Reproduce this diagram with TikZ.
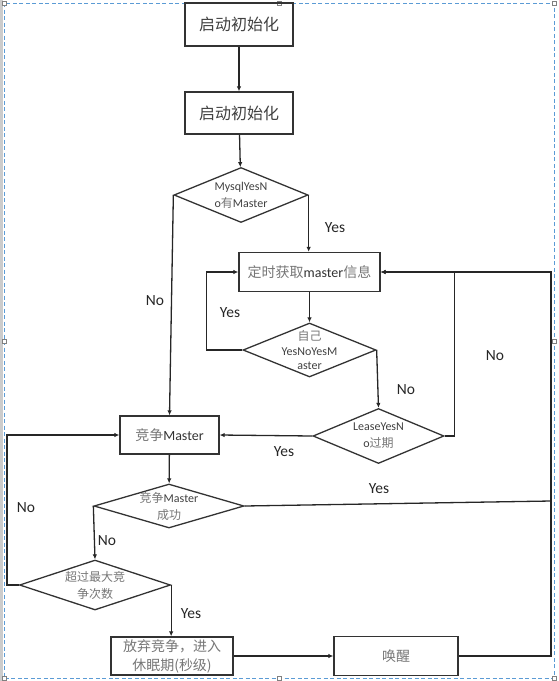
\documentclass[tikz,border=0pt]{standalone}
\usepackage{fontspec}
\setmainfont{Carlito}
\newfontfamily\cjk{Noto Sans CJK SC}
\usetikzlibrary{shapes.geometric,arrows.meta}
\definecolor{frame}{HTML}{5B9BD5}
\definecolor{zhgray}{HTML}{767676}
\newcommand{\zh}[1]{{\cjk\color{zhgray}#1}}
\begin{document}
\begin{tikzpicture}[x=1pt,y=-1pt,
	box/.style={draw=black!80, line width=1.3pt, inner sep=0pt, align=center, text=black!80, font=\fontsize{14}{19}\selectfont},
	choice/.style={diamond, draw=black!80, line width=1.3pt, inner sep=0pt},
	qtext/.style={align=center, text=black!75, font=\fontsize{12}{17}\selectfont},
	flow/.style={draw=black!85, line width=1.3pt, -{Latex[length=5pt,width=4.5pt]}},
	link/.style={draw=black!85, line width=1.3pt},
	tag/.style={text=black!85, font=\fontsize{15.5}{18}\selectfont}]
	\useasboundingbox (0,0) rectangle (558,681);
	\fill [black!20] (0,0) rectangle (2.5,681);
	\draw [frame, line width=0.7pt, dash pattern=on 4pt off 2.5pt] (4,3) rectangle (554,678);
	\foreach \p in {(4,3),(279,3),(554,3),(4,341),(554,341),(4,678),(279,678),(554,678)}
	\draw [black!50, fill=white, line width=0.4pt] \p ++(-1.8,-1.8) rectangle ++(3.6,3.6);

	\node [box, minimum width=108, minimum height=43, text=black!75, font=\cjk\fontsize{16}{19}\selectfont] (init1) at (239,24.5) {启动初始化};
	\node [box, minimum width=108, minimum height=42, text=black!75, font=\cjk\fontsize{16}{19}\selectfont] (init2) at (239,113) {启动初始化};
	\node [choice, minimum width=134, minimum height=55, label={[qtext]center:MysqlYesN\\o\zh{有}Master}] (hasmaster) at (241,195) {};
	\node [box, minimum width=141, minimum height=39] (fetch) at (309.5,272) {\zh{定时获取}master\zh{信息}};
	\node [choice, minimum width=133, minimum height=54, label={[qtext, font=\fontsize{12}{14.5}\selectfont]center:\zh{自己}\\YesNoYesM\\aster}] (isself) at (309.5,350) {};
	\node [choice, minimum width=131, minimum height=55, label={[qtext]center:LeaseYesN\\o\zh{过期}}] (expired) at (378.5,436) {};
	\node [box, minimum width=99, minimum height=38] (compete) at (169.5,435) {\zh{竞争}Master};
	\node [choice, minimum width=150, minimum height=44, label={[qtext]center:\zh{竞争}Master\\\zh{成功}}] (success) at (169,506) {};
	\node [choice, minimum width=151, minimum height=50, label={[qtext, text=zhgray, font=\cjk\fontsize{12}{17}\selectfont]center:超过最大竞\\争次数}] (exceed) at (95,585) {};
	\node [box, minimum width=122, minimum height=38, text=zhgray, font=\cjk\fontsize{14}{19}\selectfont] (giveup) at (172,656) {放弃竞争，进入\\休眠期(秒级)};
	\node [box, minimum width=124, minimum height=39, text=zhgray, font=\cjk\fontsize{14}{19}\selectfont] (wakeup) at (396,656) {唤醒};
	\coordinate (rside) at (551,272);
	\coordinate (yesjoin) at (551,501);

	\draw [flow] (init1) -- (init2);
	\draw [flow] (init2) -- (hasmaster);
	\draw [flow] (hasmaster.east) -- (hasmaster.east |- fetch.north);
	\draw [flow] (hasmaster.west) -- (compete.north);
	\draw [flow] (fetch) -- (isself);
	\draw [flow] (isself.west) -- ++(-36,0) |- (fetch.west);
	\draw [flow] (isself.east) -- (expired.north);
	\draw [flow] (expired.west) -- (compete.east);
	\draw [flow] (expired.east) -- ++(10,0) |- (fetch.east);
	\draw [flow] (compete) -- (success);
	\draw [link] (success.east) -- (yesjoin);
	\draw [flow] (success.west) -- (exceed.north);
	\draw [flow] (exceed.west) -- ++(-12,0) |- (compete.west);
	\draw [flow] (exceed.east) -- (exceed.east |- giveup.north);
	\draw [flow] (giveup) -- (wakeup);
	\draw [flow] (wakeup.east) -| (rside) -- (fetch.east);

	\node [tag] (yes1) at (335,228) {Yes};
	\node [tag] (no1) at (155,301) {No};
	\node [tag] (yes2) at (230,313) {Yes};
	\node [tag] (no2) at (406,390) {No};
	\node [tag] (no3) at (495,356) {No};
	\node [tag] (yes3) at (284,452) {Yes};
	\node [tag] (yes4) at (379,489) {Yes};
	\node [tag] (no4) at (26,508) {No};
	\node [tag] (no5) at (107,541) {No};
	\node [tag] (yes5) at (191,614) {Yes};
\end{tikzpicture}
\end{document}
